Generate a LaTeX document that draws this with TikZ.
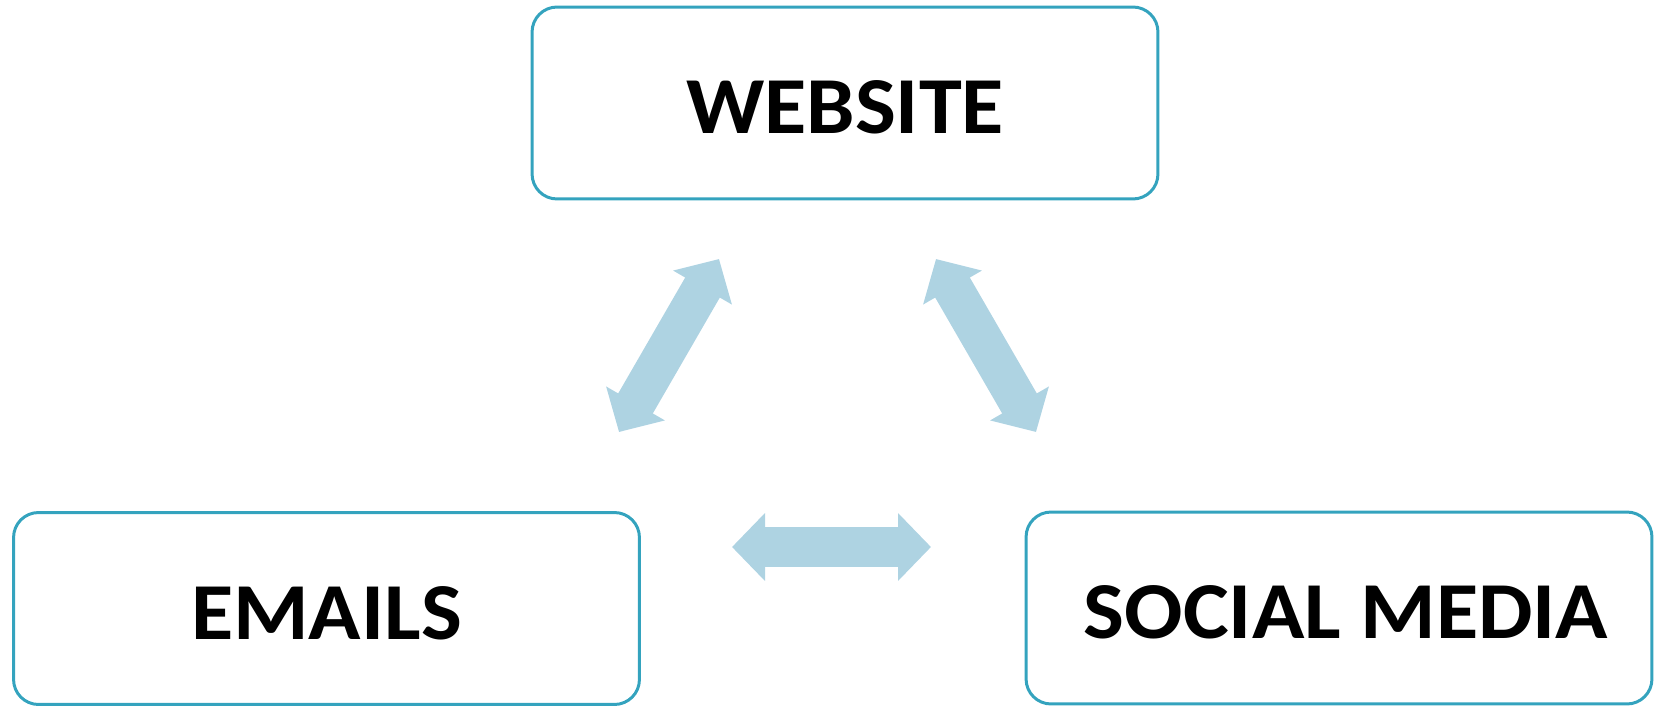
\documentclass[tikz,border=0pt]{standalone}
\usepackage{fontspec}
\setmainfont{Carlito}
\newfontfamily\labelfont{Carlito}[FakeStretch=1.07]
\usetikzlibrary{arrows.meta}
\definecolor{edgeblue}{RGB}{52,163,190}
\definecolor{arrowblue}{RGB}{174,211,226}
\begin{document}
\begin{tikzpicture}[x=0.02cm,y=-0.02cm,
    topic/.style={draw=edgeblue,line width=1.7pt,rounded corners=0.5cm,
        minimum width=12.52cm,minimum height=3.84cm,
        text height=35pt,text depth=0pt,
        font=\labelfont\bfseries\fontsize{46}{55}\selectfont},
    link/.style={arrowblue,line width=0.8cm,
        {Triangle[length=0.66cm,width=1.32cm]}-{Triangle[length=0.66cm,width=1.32cm]}}]
        \useasboundingbox (0,0) rectangle (1656,706);
        % the three channels
        \node[topic] (web) at (845,103) {WEBSITE};
        \node[topic] (mail) at (326.5,608.5) {EMAILS};
        \node[topic] (social) at (1339,608) {\hspace{8pt}SOCIAL MEDIA};

        % ends of the double arrows
        \coordinate (a1) at (619,432);
        \coordinate (a2) at (719,259);
        \coordinate (b1) at (936,259);
        \coordinate (b2) at (1036,432);
        \coordinate (c1) at (732,547);
        \coordinate (c2) at (931,547);

        \draw[link] (a1)--(a2);
        \draw[link] (b1)--(b2);
        \draw[link] (c1)--(c2);
    \end{tikzpicture}
\end{document}
